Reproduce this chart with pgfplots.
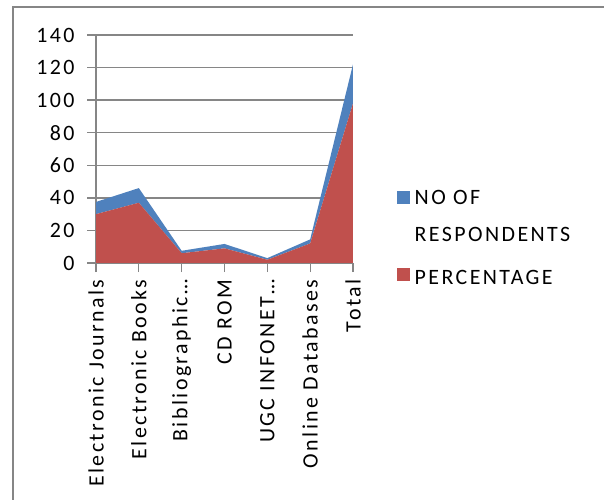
\documentclass[border=0pt]{standalone}
\usepackage{fontspec}
\setmainfont{Carlito}[LetterSpace=11]
\usepackage{pgfplots}
\pgfplotsset{compat=1.18}
\definecolor{serblue}{RGB}{79,129,189}
\definecolor{serred}{RGB}{192,80,77}
\definecolor{gridgray}{RGB}{134,134,134}
\newcommand\chartfont{\fontsize{22}{26}\selectfont}

\begin{document}
\chartfont
\begin{tikzpicture}
\path[use as bounding box] (0,0) rectangle (604bp,500bp);
\draw[gridgray, line width=1.5bp] (13bp,0) -- (13bp,493bp) -- (604bp,493bp);
\begin{axis}[
    at={(96bp,237bp)}, anchor=south west,
    scale only axis, width=257bp, height=228bp,
    xmin=0, xmax=6, ymin=0, ymax=140,
    axis x line=bottom, axis y line=left,
    axis line style={gridgray, line width=1.3bp, -},
    xtick={0,...,6},
    xticklabels={Electronic Journals, Electronic Books, Bibliographic…,
                 CD ROM, UGC INFONET…, Online Databases, Total},
    ytick={0,20,...,140},
    ymajorgrids, grid style={gridgray, line width=1.3bp},
    tick align=outside, major tick length=9bp,
    tick style={gridgray, line width=1.3bp},
    tick label style={font=\chartfont},
    x tick label style={rotate=90, anchor=east},
    y tick label style={xshift=-5bp},
    /pgf/number format/assume math mode=true,
    stack plots=y,
    legend style={at={(1.16,0.33)}, anchor=north west, draw=none, fill=none,
        font=\chartfont, row sep=20bp, column sep=5bp, nodes={inner sep=0pt}},
    legend cell align=left,
]
% PERCENTAGE (bottom of the stack)
\addplot[fill=serred, draw=none, forget plot]
    coordinates {(0,30) (1,37) (2,6) (3,9) (4,2) (5,12) (6,98)} \closedcycle;
% NO OF RESPONDENTS (stacked on top)
\addplot[fill=serblue, draw=none, forget plot]
    coordinates {(0,7.5) (1,9) (2,1.5) (3,2.7) (4,1) (5,2.5) (6,24)} \closedcycle;
\addlegendimage{legend image code/.code={\fill[serblue] (0bp,-4bp) rectangle (12bp,8bp);}}
\addlegendentry{NO OF}
\addlegendimage{empty legend}
\addlegendentry{RESPONDENTS}
\addlegendimage{legend image code/.code={\fill[serred] (0bp,-4bp) rectangle (12bp,8bp);}}
\addlegendentry{\rule{0pt}{20bp}PERCENTAGE}
\end{axis}
\end{tikzpicture}
\end{document}
